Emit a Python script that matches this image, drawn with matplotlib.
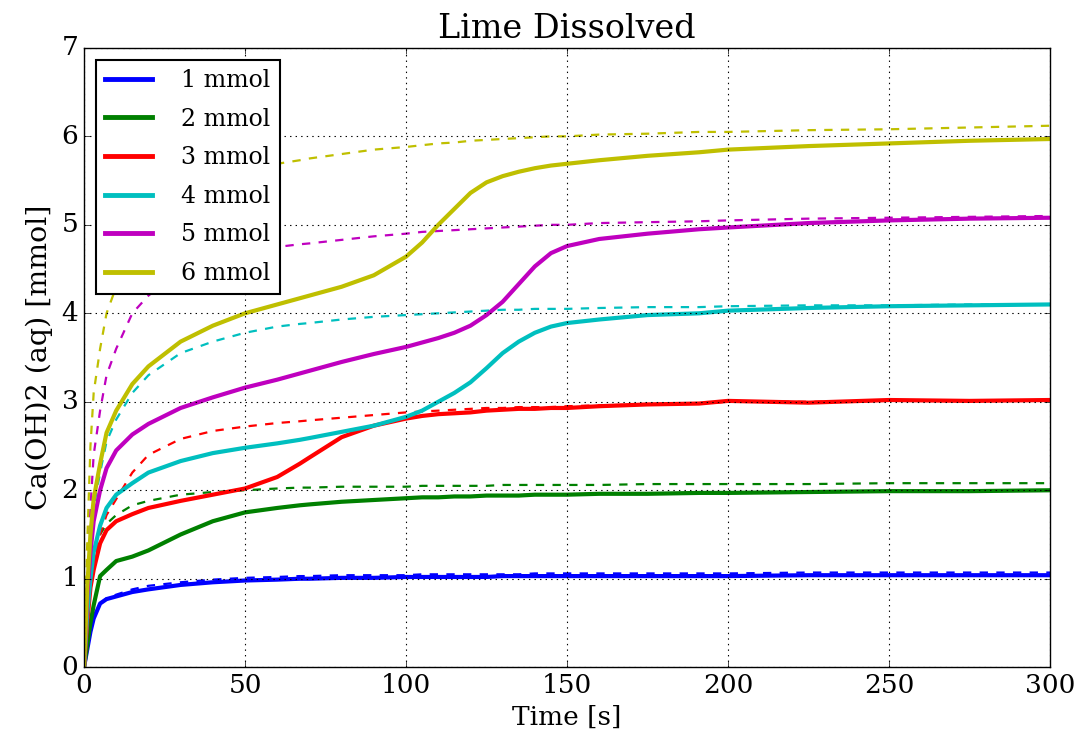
import matplotlib
matplotlib.use('Agg')
import matplotlib.pyplot as plt
import numpy as np

plt.style.use('classic')
plt.rcParams['font.family'] = ['DejaVu Serif']

# time points [s]
t = [0, 1, 2, 3, 5, 7, 10, 15, 20, 30, 40, 50, 60, 67, 70, 80, 90, 100, 105, 110,
     115, 120, 125, 130, 135, 140, 145, 150, 160, 175, 191, 200, 225, 250, 275, 300]

# measured (solid)
meas_1 = [0.0, 0.2, 0.4, 0.55, 0.72, 0.77, 0.8, 0.85, 0.88, 0.93, 0.96, 0.98, 0.99, 1.0, 1.0,
          1.01, 1.01, 1.02, 1.02, 1.02, 1.02, 1.02, 1.02, 1.03, 1.03, 1.03, 1.03, 1.03, 1.03,
          1.03, 1.03, 1.03, 1.04, 1.04, 1.04, 1.04]
meas_2 = [0.0, 0.25, 0.5, 0.7, 1.03, 1.1, 1.2, 1.25, 1.32, 1.5, 1.65, 1.75, 1.8, 1.83, 1.84,
          1.87, 1.89, 1.91, 1.92, 1.92, 1.93, 1.93, 1.94, 1.94, 1.94, 1.95, 1.95, 1.95, 1.96,
          1.96, 1.97, 1.97, 1.98, 1.99, 1.99, 2.0]
meas_3 = [0.0, 0.5, 0.9, 1.1, 1.4, 1.55, 1.65, 1.73, 1.8, 1.88, 1.95, 2.02, 2.15, 2.3, 2.37,
          2.6, 2.73, 2.81, 2.84, 2.86, 2.87, 2.88, 2.9, 2.91, 2.92, 2.92, 2.93, 2.93, 2.95,
          2.97, 2.98, 3.01, 2.99, 3.02, 3.01, 3.02]
meas_4 = [0.0, 0.6, 1.0, 1.3, 1.6, 1.8, 1.95, 2.08, 2.2, 2.33, 2.42, 2.48, 2.53, 2.57, 2.59,
          2.66, 2.73, 2.83, 2.9, 3.0, 3.1, 3.22, 3.38, 3.55, 3.68, 3.78, 3.85, 3.89, 3.93,
          3.98, 4.0, 4.03, 4.06, 4.08, 4.09, 4.1]
meas_5 = [0.0, 0.8, 1.3, 1.65, 2.0, 2.25, 2.45, 2.63, 2.75, 2.93, 3.05, 3.16, 3.25, 3.32,
          3.35, 3.45, 3.54, 3.62, 3.67, 3.72, 3.78, 3.86, 3.98, 4.13, 4.33, 4.53, 4.68, 4.76,
          4.84, 4.9, 4.95, 4.97, 5.02, 5.05, 5.07, 5.08]
meas_6 = [0.0, 0.9, 1.5, 1.9, 2.3, 2.65, 2.9, 3.2, 3.4, 3.68, 3.86, 4.0, 4.1, 4.17, 4.2,
          4.3, 4.43, 4.64, 4.8, 5.0, 5.18, 5.36, 5.48, 5.55, 5.6, 5.64, 5.67, 5.69, 5.73,
          5.78, 5.82, 5.85, 5.89, 5.92, 5.95, 5.97]

# model (dashed)
model_1 = [0.0, 0.25, 0.45, 0.58, 0.72, 0.78, 0.82, 0.88, 0.92, 0.96, 0.99, 1.01, 1.02, 1.03,
           1.03, 1.04, 1.04, 1.04, 1.05, 1.05, 1.05, 1.05, 1.05, 1.05, 1.05, 1.06, 1.06, 1.06,
           1.06, 1.06, 1.06, 1.06, 1.07, 1.07, 1.07, 1.07]
model_2 = [0.0, 0.6, 0.95, 1.2, 1.5, 1.62, 1.72, 1.83, 1.88, 1.95, 1.98, 2.0, 2.02, 2.03,
           2.03, 2.04, 2.04, 2.04, 2.05, 2.05, 2.05, 2.05, 2.05, 2.06, 2.06, 2.06, 2.06, 2.06,
           2.06, 2.07, 2.07, 2.07, 2.07, 2.08, 2.08, 2.08]
model_3 = [0.0, 0.6, 1.0, 1.25, 1.5, 1.72, 1.9, 2.2, 2.4, 2.58, 2.67, 2.72, 2.76, 2.78, 2.79,
           2.82, 2.85, 2.88, 2.89, 2.9, 2.91, 2.92, 2.93, 2.93, 2.94, 2.94, 2.94, 2.95, 2.96,
           2.97, 2.98, 3.0, 3.0, 3.01, 3.01, 3.02]
model_4 = [0.0, 0.8, 1.3, 1.8, 2.2, 2.55, 2.8, 3.1, 3.3, 3.55, 3.68, 3.78, 3.85, 3.88, 3.89,
           3.93, 3.96, 3.98, 3.99, 4.0, 4.01, 4.02, 4.03, 4.04, 4.04, 4.05, 4.05, 4.05, 4.06,
           4.07, 4.07, 4.08, 4.09, 4.09, 4.1, 4.1]
model_5 = [0.0, 1.0, 1.8, 2.4, 2.9, 3.3, 3.6, 4.0, 4.2, 4.48, 4.63, 4.7, 4.75, 4.78, 4.79,
           4.83, 4.87, 4.9, 4.92, 4.93, 4.94, 4.95, 4.96, 4.97, 4.98, 4.99, 5.0, 5.0, 5.02,
           5.03, 5.04, 5.05, 5.07, 5.08, 5.09, 5.1]
model_6 = [0.0, 1.4, 2.5, 3.1, 3.6, 4.0, 4.3, 4.8, 5.05, 5.35, 5.52, 5.62, 5.69, 5.73, 5.75,
           5.8, 5.85, 5.88, 5.9, 5.92, 5.93, 5.95, 5.96, 5.97, 5.98, 5.99, 6.0, 6.0, 6.02,
           6.03, 6.05, 6.05, 6.07, 6.08, 6.1, 6.12]

labels = ['1 mmol', '2 mmol', '3 mmol', '4 mmol', '5 mmol', '6 mmol']
colors = ['b', 'g', 'r', 'c', 'm', 'y']
measured = [meas_1, meas_2, meas_3, meas_4, meas_5, meas_6]
model = [model_1, model_2, model_3, model_4, model_5, model_6]

fig = plt.figure(figsize=(10.77, 7.48), dpi=100, facecolor='white')
ax = fig.add_axes([0.078, 0.108, 0.897, 0.828])

for m, c in zip(model, colors):
    ax.plot(t, m, '--', color=c, lw=1.6)
for s, c, lab in zip(measured, colors, labels):
    ax.plot(t, s, '-', color=c, lw=3, label=lab)

ax.set_xlim(0, 300)
ax.set_ylim(0, 7)
ax.grid(True, lw=0.8)
ax.tick_params(labelsize=19)
ax.set_xlabel('Time [s]', fontsize=19)
ax.set_ylabel('Ca(OH)2 (aq) [mmol]', fontsize=20.5, labelpad=6)
ax.set_title('Lime Dissolved', fontsize=24, y=1.005)

leg = ax.legend(loc='upper left', fontsize=17, handlelength=2.0, handletextpad=1.2,
                labelspacing=0.66, numpoints=1, borderaxespad=0.5)
leg.get_frame().set_linewidth(1.5)
for h in leg.get_lines():
    h.set_linewidth(3.5)

fig.savefig('out.png', dpi=100, facecolor='white')
